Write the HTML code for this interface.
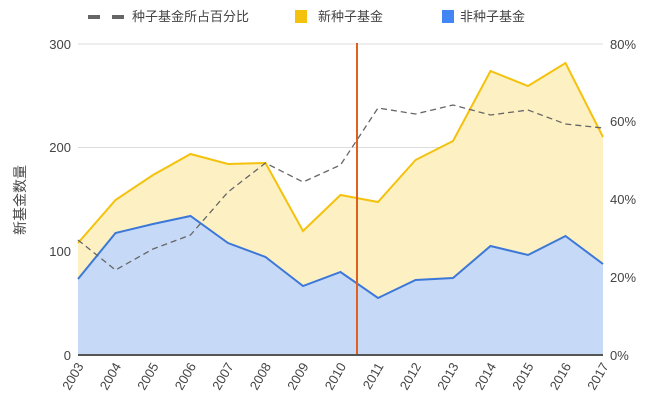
<!DOCTYPE html>
<html><head><meta charset="utf-8"><style>body{margin:0;background:#fff}svg{display:block}text{font-family:"Liberation Sans","Noto Sans CJK SC",sans-serif;fill:#444}</style></head><body>
<svg width="650" height="408" viewBox="0 0 650 408">
<g font-size="13">
<rect x="88" y="15" width="12" height="4" fill="#666"/><rect x="112" y="15" width="12" height="4" fill="#666"/>
<text x="132" y="21" fill="#222">种子基金所占百分比</text>
<rect x="295" y="10" width="12" height="13" fill="#f4c20d"/>
<text x="318" y="21" fill="#222">新种子基金</text>
<rect x="442" y="10" width="12" height="13" fill="#4285f4"/>
<text x="460" y="21" fill="#222">非种子基金</text>
</g>
<g stroke="#ddd" stroke-width="1">
<line x1="78" y1="44" x2="603" y2="44"/><line x1="78" y1="147.5" x2="603" y2="147.5"/><line x1="78" y1="251" x2="603" y2="251"/>
</g>
<polygon fill="#fdf0c2" points="78,243 115.5,200 153,175 190.5,154 228,164 265.5,163 303,231 340.5,195 378,202 415.5,160 453,141 490.5,71 528,86 565.5,63 603,137 603,355 78,355"/>
<polygon fill="#c6d9f7" points="78,279 115.5,233 153,224 190.5,216 228,243 265.5,257 303,286 340.5,272 378,298 415.5,280 453,278 490.5,246 528,255 565.5,236 603,264 603,355 78,355"/>
<polyline fill="none" stroke="#f4c20d" stroke-width="2" points="78,243 115.5,200 153,175 190.5,154 228,164 265.5,163 303,231 340.5,195 378,202 415.5,160 453,141 490.5,71 528,86 565.5,63 603,137"/>
<polyline fill="none" stroke="#3c78d8" stroke-width="2" points="78,279 115.5,233 153,224 190.5,216 228,243 265.5,257 303,286 340.5,272 378,298 415.5,280 453,278 490.5,246 528,255 565.5,236 603,264"/>
<polyline fill="none" stroke="#666" stroke-width="1.3" stroke-dasharray="6,4" points="78,240 115.5,270 153,249 190.5,235 228,192 265.5,163 303,182 340.5,165 378,108 415.5,114 453,105 490.5,115 528,110 565.5,124 603,128"/>
<line x1="357" y1="43" x2="357" y2="354" stroke="#e0601c" stroke-width="2"/>
<line x1="78" y1="355" x2="603" y2="355" stroke="#555" stroke-width="2"/>
<g font-size="13" text-anchor="end">
<text x="71" y="49">300</text><text x="71" y="152">200</text><text x="71" y="256">100</text><text x="71" y="360">0</text>
</g>
<g font-size="13">
<text x="610" y="49">80%</text><text x="610" y="126">60%</text><text x="610" y="204">40%</text><text x="610" y="282">20%</text><text x="610" y="360">0%</text>
</g>
<text transform="translate(25,200) rotate(-90)" font-size="14" text-anchor="middle" fill="#222">新基金数量</text>
<g font-size="13" text-anchor="end">
<text transform="translate(84,366) rotate(-60)">2003</text>
<text transform="translate(121.5,366) rotate(-60)">2004</text>
<text transform="translate(159,366) rotate(-60)">2005</text>
<text transform="translate(196.5,366) rotate(-60)">2006</text>
<text transform="translate(234,366) rotate(-60)">2007</text>
<text transform="translate(271.5,366) rotate(-60)">2008</text>
<text transform="translate(309,366) rotate(-60)">2009</text>
<text transform="translate(346.5,366) rotate(-60)">2010</text>
<text transform="translate(384,366) rotate(-60)">2011</text>
<text transform="translate(421.5,366) rotate(-60)">2012</text>
<text transform="translate(459,366) rotate(-60)">2013</text>
<text transform="translate(496.5,366) rotate(-60)">2014</text>
<text transform="translate(534,366) rotate(-60)">2015</text>
<text transform="translate(571.5,366) rotate(-60)">2016</text>
<text transform="translate(609,366) rotate(-60)">2017</text>
</g>
</svg>
</body></html>
